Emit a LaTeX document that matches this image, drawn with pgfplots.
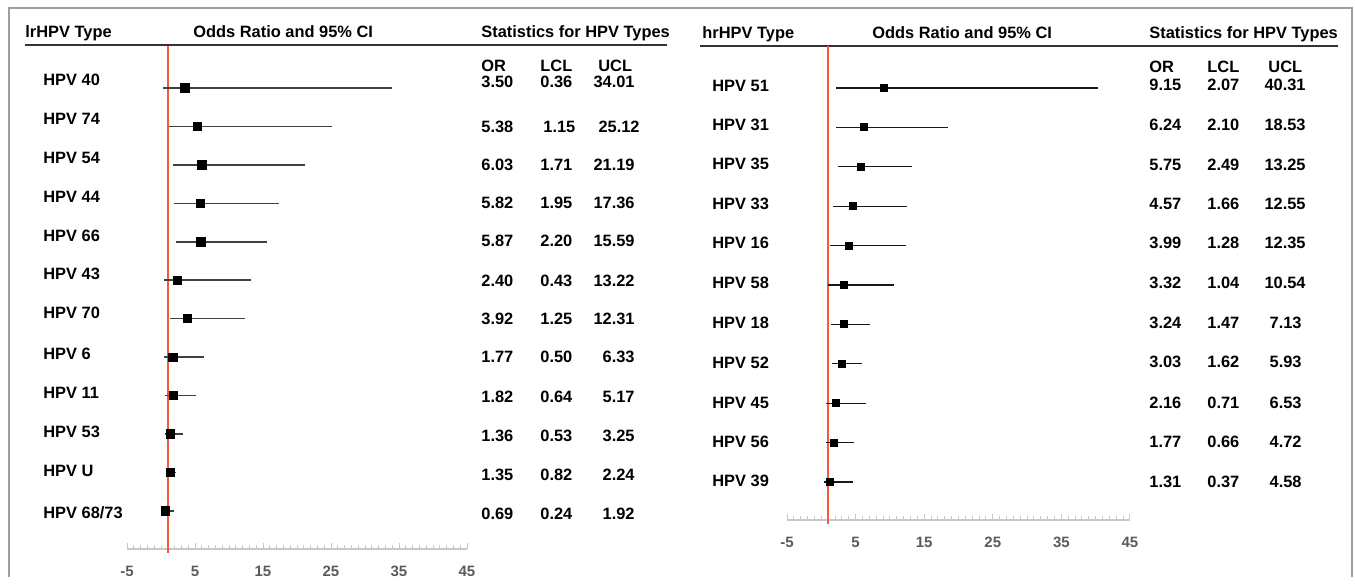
\documentclass[border=0pt]{standalone}
\usepackage{pgfplots}
\usepackage{pgfplotstable}
\pgfplotsset{compat=1.18}
\usepackage{fontspec}
\setmainfont{Liberation Sans}
\definecolor{redline}{RGB}{245,90,60}
\definecolor{axgray}{RGB}{200,200,200}
\definecolor{tickgray}{RGB}{90,90,90}

\pgfplotstableread{
row or lcl ucl
1 3.50 0.36 34.01
2 5.38 1.15 25.12
3 6.03 1.71 21.19
4 5.82 1.95 17.36
5 5.87 2.20 15.59
6 2.40 0.43 13.22
7 3.92 1.25 12.31
8 1.77 0.50 6.33
9 1.82 0.64 5.17
10 1.36 0.53 3.25
11 1.35 0.82 2.24
12 0.69 0.24 1.92
}\lowtab

\pgfplotstableread{
row or lcl ucl
1 9.15 2.07 40.31
2 6.24 2.10 18.53
3 5.75 2.49 13.25
4 4.57 1.66 12.55
5 3.99 1.28 12.35
6 3.32 1.04 10.54
7 3.24 1.47 7.13
8 3.03 1.62 5.93
9 2.16 0.71 6.53
10 1.77 0.66 4.72
11 1.31 0.37 4.58
}\hightab

\newcommand\tl[3]{\node[anchor=base west,inner sep=0pt] at (#1,{577-#2-6}) {#3};}
\newcommand\trr[3]{\node[anchor=base east,inner sep=0pt] at (#1,{577-#2-6}) {#3};}

\pgfplotsset{
  forest/.style={
    scale only axis,
    xmin=-5, xmax=45,
    axis x line=bottom, axis y line=none,
    x axis line style={-, draw=axgray, line width=1pt},
    xtick={-5,5,15,25,35,45},
    xticklabels={-5,5,15,25,35,45},
    minor x tick num=9,
    tick align=inside,
    major tick length=3pt, minor tick length=1.8pt,
    every tick/.style={draw=axgray, line width=0.5pt},
    xticklabel style={font=\fontsize{7.5}{9}\selectfont\bfseries, text=tickgray,
      anchor=base, yshift=-13.6pt},
    ytick=\empty,
    clip=false,
  }
}

\begin{document}
\begin{tikzpicture}
\begin{scope}[x=0.5pt,y=0.5pt]
\useasboundingbox (0,0) rectangle (1355,577);
\draw[gray!75, line width=0.7pt] (9,0) -- (9,569) -- (1352,569) -- (1352,0);
\begin{scope}[every node/.style={font=\fontsize{8.2}{9.8}\selectfont\bfseries}]
% left headers
\tl{25}{32}{lrHPV Type}
\tl{193}{32}{Odds Ratio and 95\% CI}
\tl{481}{32}{Statistics for HPV Types}
\draw[black!80, line width=1pt] (25,{577-45}) -- (667,{577-45});
\tl{481}{66}{OR}\tl{540}{66}{LCL}\tl{598}{66}{UCL}
% left row labels
\tl{43}{80}{HPV 40}
\tl{43}{119}{HPV 74}
\tl{43}{158}{HPV 54}
\tl{43}{197}{HPV 44}
\tl{43}{236}{HPV 66}
\tl{43}{274}{HPV 43}
\tl{43}{313}{HPV 70}
\tl{43}{353}{HPV 6}
\tl{43}{392}{HPV 11}
\tl{43}{431}{HPV 53}
\tl{43}{470}{HPV U}
\tl{43}{512}{HPV 68/73}
% left stats
\tl{481}{82}{3.50}\tl{540}{82}{0.36}\trr{635}{82}{34.01}
\tl{481}{127}{5.38}\tl{543}{127}{1.15}\trr{640}{127}{25.12}
\tl{481}{165}{6.03}\tl{540}{165}{1.71}\trr{635}{165}{21.19}
\tl{481}{203}{5.82}\tl{540}{203}{1.95}\trr{635}{203}{17.36}
\tl{481}{241}{5.87}\tl{540}{241}{2.20}\trr{635}{241}{15.59}
\tl{481}{281}{2.40}\tl{540}{281}{0.43}\trr{635}{281}{13.22}
\tl{481}{319}{3.92}\tl{540}{319}{1.25}\trr{635}{319}{12.31}
\tl{481}{357}{1.77}\tl{540}{357}{0.50}\trr{635}{357}{6.33}
\tl{481}{396}{1.82}\tl{540}{396}{0.64}\trr{635}{396}{5.17}
\tl{481}{435}{1.36}\tl{540}{435}{0.53}\trr{635}{435}{3.25}
\tl{481}{474}{1.35}\tl{540}{474}{0.82}\trr{635}{474}{2.24}
\tl{481}{513}{0.69}\tl{540}{513}{0.24}\trr{635}{513}{1.92}
% right headers
\tl{702}{33}{hrHPV Type}
\tl{872}{33}{Odds Ratio and 95\% CI}
\tl{1149}{33}{Statistics for HPV Types}
\draw[black!80, line width=1pt] (700,{577-46}) -- (1338,{577-46});
\tl{1149}{67}{OR}\tl{1207}{67}{LCL}\tl{1268}{67}{UCL}
% right row labels
\tl{712}{86}{HPV 51}
\tl{712}{125}{HPV 31}
\tl{712}{164}{HPV 35}
\tl{712}{204}{HPV 33}
\tl{712}{243}{HPV 16}
\tl{712}{283}{HPV 58}
\tl{712}{322}{HPV 18}
\tl{712}{362}{HPV 52}
\tl{712}{402}{HPV 45}
\tl{712}{441}{HPV 56}
\tl{712}{480}{HPV 39}
% right stats
\tl{1149}{85}{9.15}\tl{1207}{85}{2.07}\trr{1306}{85}{40.31}
\tl{1149}{125}{6.24}\tl{1207}{125}{2.10}\trr{1306}{125}{18.53}
\tl{1149}{165}{5.75}\tl{1207}{165}{2.49}\trr{1306}{165}{13.25}
\tl{1149}{204}{4.57}\tl{1207}{204}{1.66}\trr{1306}{204}{12.55}
\tl{1149}{243}{3.99}\tl{1207}{243}{1.28}\trr{1306}{243}{12.35}
\tl{1149}{283}{3.32}\tl{1207}{283}{1.04}\trr{1306}{283}{10.54}
\tl{1149}{322}{3.24}\tl{1207}{322}{1.47}\trr{1302}{322}{7.13}
\tl{1149}{361}{3.03}\tl{1207}{361}{1.62}\trr{1302}{361}{5.93}
\tl{1149}{402}{2.16}\tl{1207}{402}{0.71}\trr{1302}{402}{6.53}
\tl{1149}{441}{1.77}\tl{1207}{441}{0.66}\trr{1302}{441}{4.72}
\tl{1149}{481}{1.31}\tl{1207}{481}{0.37}\trr{1302}{481}{4.58}
\end{scope}
\end{scope}

% left forest plot
\begin{axis}[forest, at={(63.5pt,14pt)}, anchor=south west,
  width=170pt, height=251.5pt, ymin=-12.99, ymax=0.092]
\draw[redline, line width=1pt] (axis cs:1,0.092) -- (axis cs:1,-13.09);
\addplot[only marks, mark=square*, mark size=2.1pt, black,
  error bars/.cd, x dir=both, x explicit, error mark=none,
  error bar style={black!75, line width=0.75pt}]
  table[x=or, y expr=-\thisrow{row},
        x error plus expr=\thisrow{ucl}-\thisrow{or},
        x error minus expr=\thisrow{or}-\thisrow{lcl}] {\lowtab};
\end{axis}

% right forest plot
\begin{axis}[forest, at={(393.5pt,28.5pt)}, anchor=south west,
  width=171.5pt, height=237pt, ymin=-11.965, ymax=0.066]
\draw[redline, line width=1pt] (axis cs:1,0.066) -- (axis cs:1,-12.06);
\addplot[only marks, mark=square*, mark size=1.75pt, black,
  error bars/.cd, x dir=both, x explicit, error mark=none,
  error bar style={black!90, line width=0.65pt}]
  table[x=or, y expr=-\thisrow{row},
        x error plus expr=\thisrow{ucl}-\thisrow{or},
        x error minus expr=\thisrow{or}-\thisrow{lcl}] {\hightab};
\end{axis}
\end{tikzpicture}
\end{document}
